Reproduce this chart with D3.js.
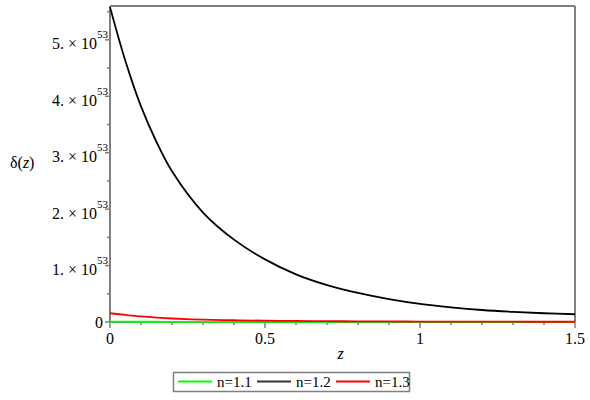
<!DOCTYPE html>
<html>
<head>
<meta charset="utf-8">
<script src="https://cdn.jsdelivr.net/npm/d3@7"></script>
<style>
  body { margin: 0; background: #fff; }
  svg text { font-family: "Liberation Serif", "Times New Roman", Times, "DejaVu Serif", serif; }
</style>
</head>
<body>
<svg id="chart" width="590" height="400"></svg>
<script>
// redshift samples
const zVals = [0, 0.05, 0.1, 0.15, 0.2, 0.3, 0.4, 0.5, 0.6, 0.7, 0.8, 0.9, 1.0, 1.1, 1.2, 1.3, 1.4, 1.5];

// delta(z) in units of 1e53
const n11 = [0.006, 0.005, 0.0045, 0.004, 0.0035, 0.003, 0.0025, 0.002, 0.0018, 0.0016, 0.0014, 0.0012, 0.001, 0.0009, 0.0008, 0.0007, 0.0006, 0.0005];
const n12 = [5.58, 4.62, 3.82, 3.19, 2.67, 1.94, 1.46, 1.11, 0.845, 0.655, 0.515, 0.405, 0.32, 0.26, 0.213, 0.18, 0.155, 0.137];
const n13 = [0.155, 0.125, 0.098, 0.078, 0.062, 0.042, 0.031, 0.024, 0.019, 0.015, 0.012, 0.010, 0.008, 0.007, 0.006, 0.005, 0.0045, 0.004];

const seriesNames = ["n=1.1", "n=1.2", "n=1.3"];
const seriesColors = ["#00ff00", "#000000", "#ff0000"];

const xTicks = [0, 0.5, 1, 1.5];
const xTickLabels = ["0", "0.5", "1", "1.5"];
const yTicks = [0, 1, 2, 3, 4, 5];
const yExp = "53";

const svg = d3.select("#chart");
const plotL = 110, plotR = 575, plotT = 6, plotB = 322;
const axisGray = "#7f7f7f";

const x = d3.scaleLinear().domain([0, 1.5]).range([plotL, plotR]);
const y = d3.scaleLinear().domain([0, 5.6]).range([plotB, plotT]);

// frame: top and right borders
svg.append("line")
  .attr("x1", plotL).attr("x2", plotR).attr("y1", plotT).attr("y2", plotT)
  .attr("stroke", axisGray).attr("stroke-width", 2);
svg.append("line")
  .attr("x1", plotR).attr("x2", plotR).attr("y1", plotT).attr("y2", plotB)
  .attr("stroke", axisGray).attr("stroke-width", 2);

// x axis
const xMinor = d3.range(0, 1.5001, 0.1);
svg.append("g").selectAll("line")
  .data(xMinor)
  .join("line")
    .attr("x1", d => x(d)).attr("x2", d => x(d))
    .attr("y1", plotB)
    .attr("y2", d => xTicks.some(t => Math.abs(t - d) < 1e-6) ? plotB + 6 : plotB + 3)
    .attr("stroke", axisGray).attr("stroke-width", 1.5);

svg.append("g").selectAll("text")
  .data(xTicks)
  .join("text")
    .attr("x", d => x(d))
    .attr("y", 344)
    .attr("text-anchor", "middle")
    .attr("font-size", 16)
    .text((d, i) => xTickLabels[i]);

// y axis
const yMinor = d3.range(0, 5.5001, 0.5);
svg.append("g").selectAll("line")
  .data(yMinor)
  .join("line")
    .attr("y1", d => y(d)).attr("y2", d => y(d))
    .attr("x1", plotL)
    .attr("x2", d => Number.isInteger(d) ? plotL - 5 : plotL - 3)
    .attr("stroke", axisGray).attr("stroke-width", 1.5);

const yLab = svg.append("g").selectAll("text")
  .data(yTicks)
  .join("text")
    .attr("font-size", 16)
    .attr("text-anchor", "end");

yLab.filter(d => d === 0)
  .attr("x", 103)
  .attr("y", d => y(d) + 5.5)
  .text("0");

yLab.filter(d => d !== 0)
  .attr("x", 108)
  .attr("y", d => y(d) + 9.5)
  .each(function(d) {
    const t = d3.select(this);
    t.append("tspan").text(d + ". \u00d7 10");
    t.append("tspan").attr("font-size", 11).attr("dy", -11).text(yExp);
  });

// axis lines drawn over ticks
svg.append("line")
  .attr("x1", plotL).attr("x2", plotR).attr("y1", plotB).attr("y2", plotB)
  .attr("stroke", axisGray).attr("stroke-width", 2);
svg.append("line")
  .attr("x1", plotL).attr("x2", plotL).attr("y1", plotT).attr("y2", plotB)
  .attr("stroke", axisGray).attr("stroke-width", 2);

// axis titles
const yTitle = svg.append("text")
  .attr("x", 10).attr("y", 168)
  .attr("font-size", 16);
yTitle.append("tspan").text("\u03b4(");
yTitle.append("tspan").attr("font-style", "italic").text("z");
yTitle.append("tspan").text(")");

svg.append("text")
  .attr("x", x(0.75) - 2).attr("y", 359)
  .attr("text-anchor", "middle")
  .attr("font-size", 16)
  .attr("font-style", "italic")
  .text("z");

// curves
const allSeries = [n11, n12, n13];
const line = d3.line()
  .x((d, i) => x(zVals[i]))
  .y(d => y(d))
  .curve(d3.curveCatmullRom.alpha(0.5));

svg.append("g").selectAll("path")
  .data(allSeries)
  .join("path")
    .attr("d", d => line(d))
    .attr("fill", "none")
    .attr("stroke", (d, i) => seriesColors[i])
    .attr("stroke-width", 1.8);

// legend
const legend = svg.append("g");
legend.append("rect")
  .attr("x", 173.5).attr("y", 372.5)
  .attr("width", 236).attr("height", 19)
  .attr("fill", "#fff")
  .attr("stroke", axisGray).attr("stroke-width", 1.5);

const legX = [178, 257, 336];
const item = legend.selectAll("g.item")
  .data(seriesNames)
  .join("g")
    .attr("class", "item")
    .attr("transform", (d, i) => `translate(${legX[i]},381.5)`);

item.append("line")
  .attr("x1", 0).attr("x2", 34)
  .attr("stroke", (d, i) => seriesColors[i] === "#000000" ? "#333" : seriesColors[i])
  .attr("stroke-width", 2);

item.append("text")
  .attr("x", 39).attr("y", 5)
  .attr("font-size", 15)
  .text(d => d);
</script>
</body>
</html>
